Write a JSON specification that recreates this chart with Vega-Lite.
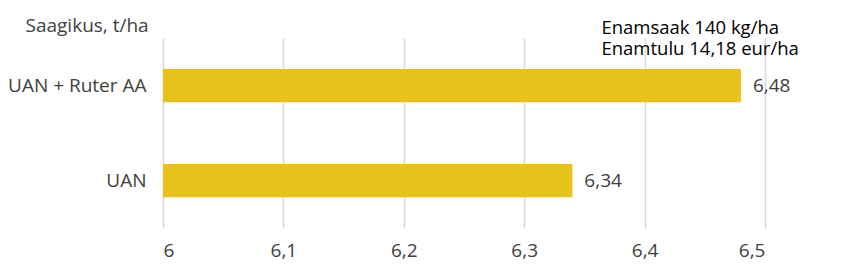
{
  "$schema": "https://vega.github.io/schema/vega-lite/v6.json",
  "autosize": {"type": "none"},
  "width": 602,
  "height": 190,
  "padding": {"left": 163, "top": 38, "right": 81, "bottom": 43},
  "config": {
    "locale": {"number": {"decimal": ",", "thousands": " ", "grouping": [3], "currency": ["", ""]}},
    "font": "Open Sans",
    "view": {"stroke": null},
    "background": "white"
  },
  "title": {
    "text": ["Enamsaak 140 kg/ha", "Enamtulu 14,18 eur/ha"],
    "anchor": "end",
    "align": "left",
    "dx": -189,
    "dy": 46,
    "offset": 4,
    "fontSize": 18.5,
    "fontWeight": "normal",
    "color": "#000000",
    "lineHeight": 21,
    "font": "Open Sans"
  },
  "data": {
    "values": [
      {"treatment": "UAN + Ruter AA", "yield": 6.48},
      {"treatment": "UAN", "yield": 6.34}
    ]
  },
  "encoding": {
    "y": {
      "field": "treatment",
      "type": "nominal",
      "sort": ["UAN + Ruter AA", "UAN"],
      "scale": {"paddingInner": 0.65, "paddingOuter": 0.325},
      "axis": {
        "title": "Saagikus, t/ha",
        "titleAngle": 0,
        "titleAlign": "left",
        "titleBaseline": "alphabetic",
        "titleX": -138,
        "titleY": -7,
        "titleFontSize": 19,
        "titleFontWeight": "normal",
        "titleColor": "#404040",
        "labelFontSize": 19,
        "labelColor": "#404040",
        "labelPadding": 17,
        "ticks": false,
        "domain": false
      }
    },
    "x": {
      "field": "yield",
      "type": "quantitative",
      "scale": {"domain": [6, 6.5], "zero": false, "nice": false},
      "axis": {
        "title": null,
        "values": [6, 6.1, 6.2, 6.3, 6.4, 6.5],
        "format": ".1~f",
        "labelFontSize": 19,
        "labelColor": "#404040",
        "labelPadding": 13,
        "ticks": false,
        "domain": false,
        "grid": true,
        "gridColor": "#D9D9D9",
        "gridWidth": 1.5
      }
    }
  },
  "layer": [
    {
      "mark": {"type": "bar", "color": "#E6C21A"},
      "encoding": {"x2": {"datum": 6}}
    },
    {
      "mark": {"type": "text", "align": "left", "baseline": "middle", "dx": 12, "fontSize": 19, "color": "#404040"},
      "encoding": {"text": {"field": "yield", "type": "quantitative", "format": ".2f"}}
    }
  ]
}
